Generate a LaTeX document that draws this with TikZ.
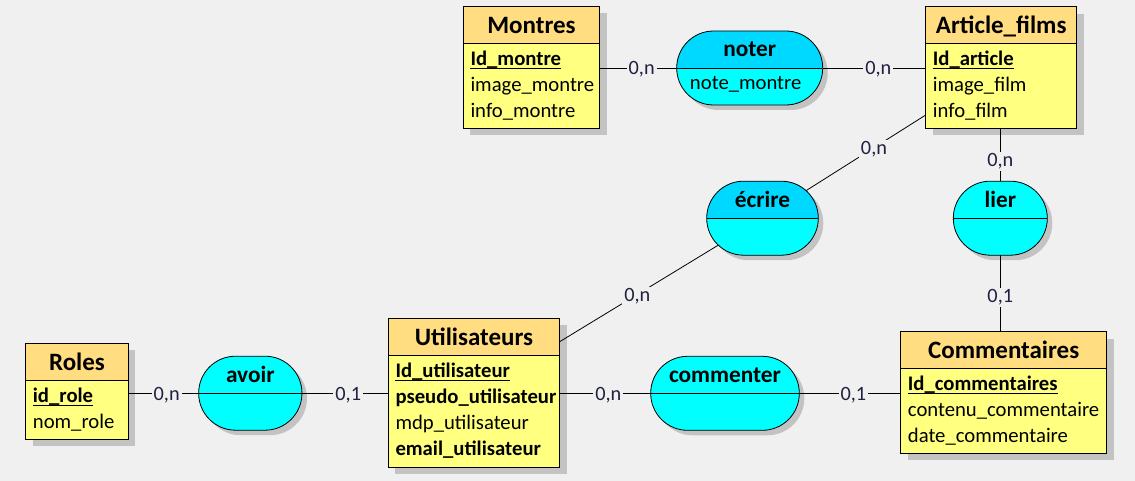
\documentclass[tikz,border=0pt]{standalone}
\usepackage{fontspec}
\setmainfont{Carlito}
\usetikzlibrary{calc}
\definecolor{bgc}{HTML}{F0F0F0}
\definecolor{hdrc}{HTML}{FFDD80}
\definecolor{bodyc}{HTML}{FFFF80}
\definecolor{cyanlow}{HTML}{00FFFF}
\definecolor{cyantop}{HTML}{00D9FF}
\definecolor{shadowc}{HTML}{C3C3C3}
\definecolor{cardc}{HTML}{202040}
\pgfdeclarelayer{bglayer}
\pgfdeclarelayer{shadlayer}
\pgfdeclarelayer{connlayer}
\pgfsetlayers{bglayer,shadlayer,connlayer,main}
\begin{document}
\begin{tikzpicture}[x=1pt,y=-1pt,
  ent/.style={draw=black, line width=0.9pt, fill=bodyc, rectangle, inner sep=0pt, outer sep=0pt,
    path picture={\fill[hdrc] (path picture bounding box.north west) rectangle ([yshift=-37pt]path picture bounding box.north east);
      \draw[line width=0.9pt] ([yshift=-37pt]path picture bounding box.north west) -- ([yshift=-37pt]path picture bounding box.north east);}},
  hdr/.style={font=\fontsize{25}{29}\selectfont\bfseries, inner sep=0pt, anchor=base},
  row/.style={font=\fontsize{20.7}{24}\selectfont, inner sep=0pt, anchor=base west},
  rowb/.style={font=\fontsize{20.7}{24}\selectfont\bfseries, inner sep=0pt, anchor=base west},
  atitle/.style={font=\fontsize{23.3}{27}\selectfont\bfseries, inner sep=0pt, anchor=base},
  aattr/.style={font=\fontsize{20.7}{24}\selectfont, inner sep=0pt, anchor=base},
  assoc/.style={draw=black, line width=0.8pt, rounded corners=36.9pt, minimum height=74pt, inner sep=0pt, outer sep=0pt, fill=cyanlow,
    path picture={\fill[#1, sharp corners] (path picture bounding box.north west) rectangle (path picture bounding box.east);
      \draw[line width=0.8pt, sharp corners] (path picture bounding box.west) -- (path picture bounding box.east);}},
  assoc/.default=cyanlow,
  conn/.style={draw=black, line width=0.8pt},
  card/.style={fill=bgc, text=cardc, font=\fontsize{20.3}{24}\selectfont, inner xsep=2pt, inner ysep=1.5pt, text height=13pt, text depth=3pt, yshift=-2pt},
  pk/.style={line width=0.8pt}
]
\path[use as bounding box] (0,0) rectangle (1135,481);
\begin{pgfonlayer}{bglayer}
\fill[bgc] (0,0) rectangle (1135,481);
\end{pgfonlayer}

% ---------- entities ----------
\node[ent, minimum width=136.4pt, minimum height=121.7pt] (montres) at (531.5,67.15) {};
\node[hdr] (montresH) at ($(montres.north)+(0,27)$) {Montres};
\node[rowb] (montres1) at ($(montres.north west)+(7,59)$) {Id\_montre};
\node[row] (montres2) at ($(montres.north west)+(7,85)$) {image\_montre};
\node[row] (montres3) at ($(montres.north west)+(7,111)$) {info\_montre};
\draw[pk] ([yshift=-3pt]montres1.base west) -- ([yshift=-3pt]montres1.base east);

\node[ent, minimum width=151pt, minimum height=121.3pt] (art) at (1001.2,67.35) {};
\node[hdr] (artH) at ($(art.north)+(0,27)$) {Article\_films};
\node[rowb] (art1) at ($(art.north west)+(7,59)$) {Id\_article};
\node[row] (art2) at ($(art.north west)+(7,85)$) {image\_film};
\node[row] (art3) at ($(art.north west)+(7,111)$) {info\_film};
\draw[pk] ([yshift=-3pt]art1.base west) -- ([yshift=-3pt]art1.base east);

\node[ent, minimum width=102.6pt, minimum height=95.7pt] (roles) at (77,391.15) {};
\node[hdr] (rolesH) at ($(roles.north)+(0,27)$) {Roles};
\node[rowb] (roles1) at ($(roles.north west)+(7,59)$) {id\_role};
\node[row] (roles2) at ($(roles.north west)+(7,85)$) {nom\_role};
\draw[pk] ([yshift=-3pt]roles1.base west) -- ([yshift=-3pt]roles1.base east);

\node[ent, minimum width=171.4pt, minimum height=149pt] (util) at (474,392.8) {};
\node[hdr] (utilH) at ($(util.north)+(0,27)$) {Utilisateurs};
\node[rowb] (util1) at ($(util.north west)+(7,59)$) {Id\_utilisateur};
\node[rowb] (util2) at ($(util.north west)+(7,85)$) {pseudo\_utilisateur};
\node[row] (util3) at ($(util.north west)+(7,111)$) {mdp\_utilisateur};
\node[rowb] (util4) at ($(util.north west)+(7,137)$) {email\_utilisateur};
\draw[pk] ([yshift=-3pt]util1.base west) -- ([yshift=-3pt]util1.base east);

\node[ent, minimum width=206pt, minimum height=121.6pt] (comm) at (1003.7,392.5) {};
\node[hdr] (commH) at ($(comm.north)+(0,27)$) {Commentaires};
\node[rowb] (comm1) at ($(comm.north west)+(7,59)$) {Id\_commentaires};
\node[row] (comm2) at ($(comm.north west)+(7,85)$) {contenu\_commentaire};
\node[row] (comm3) at ($(comm.north west)+(7,111)$) {date\_commentaire};
\draw[pk] ([yshift=-3pt]comm1.base west) -- ([yshift=-3pt]comm1.base east);

% ---------- associations ----------
\node[assoc=cyantop, minimum width=146pt] (noter) at (749.7,68) {};
\node[atitle] (noterT) at ($(noter.north)+(0,26)$) {noter};
\node[aattr] (noterA) at ($(noter.north)+(-4,59)$) {note\_montre};

\node[assoc=cyantop, minimum width=111.6pt] (ecrire) at (762.5,218.2) {};
\node[atitle] (ecrireT) at ($(ecrire.north)+(0,26)$) {écrire};

\node[assoc, minimum width=94pt] (lier) at (1000.3,218.2) {};
\node[atitle] (lierT) at ($(lier.north)+(0,26)$) {lier};

\node[assoc, minimum width=103.3pt] (avoir) at (250.3,393.2) {};
\node[atitle] (avoirT) at ($(avoir.north)+(0,26)$) {avoir};

\node[assoc, minimum width=148.6pt] (commenter) at (725,393.3) {};
\node[atitle] (commenterT) at ($(commenter.north)+(0,26)$) {commenter};

% ---------- shadows ----------
\begin{pgfonlayer}{shadlayer}
\foreach \n in {montres,art,roles,util,comm}
  \fill[shadowc] ($(\n.north west)+(7,7)$) rectangle ($(\n.south east)+(7,7)$);
\foreach \n in {noter,ecrire,lier,avoir,commenter}
  \fill[shadowc, rounded corners=36.9pt] ($(\n.north west)+(5,5)$) rectangle ($(\n.south east)+(5,5)$);
\end{pgfonlayer}

% ---------- connectors ----------
\coordinate (artE) at ($(art.south west)+(0,-13)$);
\coordinate (utilE) at ($(util.north east)+(0,23.4)$);
\begin{pgfonlayer}{connlayer}
\draw[conn] (noter.west -| montres.east) -- node[card, pos=0.545] (c1) {0,n} (noter.west);
\draw[conn] (noter.east) -- node[card, pos=0.54] (c2) {0,n} (noter.east -| art.west);
\draw[conn] (lier.north |- art.south) -- node[card, pos=0.59] (c3) {0,n} (lier.north);
\draw[conn] (lier.south) -- node[card, pos=0.533] (c4) {0,1} (lier.south |- comm.north);
\draw[conn] (artE) -- node[card, pos=0.317] (c5) {0,n} (ecrire.center);
\draw[conn] (ecrire.center) -- node[card, pos=0.617] (c6) {0,n} (utilE);
\draw[conn] (avoir.west -| roles.east) -- node[card, pos=0.545] (c7) {0,n} (avoir.west);
\draw[conn] (avoir.east) -- node[card, pos=0.536] (c8) {0,1} (avoir.east -| util.west);
\draw[conn] (commenter.west -| util.east) -- node[card, pos=0.534] (c9) {0,n} (commenter.west);
\draw[conn] (commenter.east) -- node[card, pos=0.533] (c10) {0,1} (commenter.east -| comm.west);
\end{pgfonlayer}
\end{tikzpicture}
\end{document}
